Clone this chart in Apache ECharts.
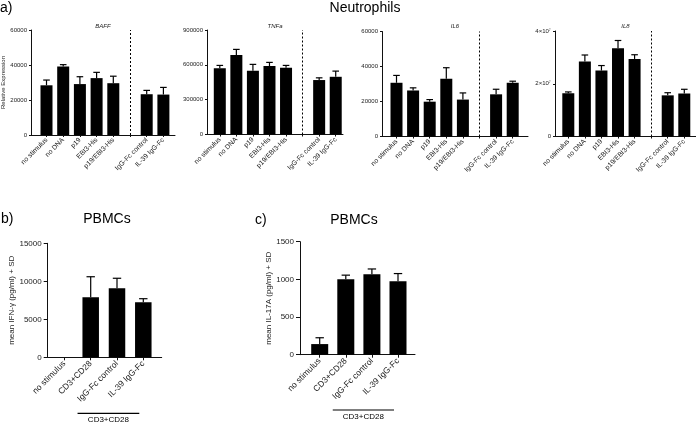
<!DOCTYPE html>
<html><head><meta charset="utf-8">
<script src="https://cdn.jsdelivr.net/npm/echarts@6/dist/echarts.min.js"></script>
<style>html,body{margin:0;padding:0;background:#fff}#c{width:696px;height:423px}</style>
</head><body><div id="c"></div>
<script>
// ---------------- data ----------------
const neutroCats = ['no stimulus', 'no DNA', 'p19', 'EBI3-His', 'p19/EBI3-His', 'IgG-Fc control', 'IL-39 IgG-Fc'];
const baffMean = [28400, 39100, 29100, 32500, 29600, 23300, 23100];
const baffSD   = [3000, 1100, 4200, 3300, 4000, 2200, 4100];
const tnfMean  = [570000, 684000, 549000, 589000, 575000, 469000, 497000];
const tnfSD    = [25000, 49000, 55000, 32000, 20000, 19000, 49000];
const il6Mean  = [30700, 26300, 19900, 33000, 21100, 24100, 30700];
const il6SD    = [4200, 1500, 1200, 6300, 3800, 2900, 900];
const il8Mean  = [16400000, 28400000, 25000000, 33500000, 29400000, 15600000, 16300000];
const il8SD    = [500000, 2500000, 1900000, 2900000, 1600000, 1000000, 1600000];
const il8TickLabels = ['0', '2×10⁷', '4×10⁷'];

const pbmcCats = ['no stimulus', 'CD3+CD28', 'IgG-Fc control', 'IL-39 IgG-Fc'];
const ifnMean  = [0, 7900, 9080, 7240];
const ifnSD    = [0, 2700, 1320, 470];
const il17Mean = [141, 1001, 1067, 975];
const il17SD   = [84, 55, 71, 102];

// ---------------- layout ----------------
const FONT = 'Liberation Sans, Arial, Helvetica, sans-serif';
const withGap = (arr, gap, fill) => gap == null ? arr.slice() : [...arr.slice(0, gap), fill, ...arr.slice(gap)];

const panels = [
  {title: 'BAFF', cats: neutroCats, mean: baffMean, sd: baffSD, gap: 5, max: 60000, interval: 20000,
   yName: 'Relative Expression', nameGap: 20,
   frame: {l: 31, r: 175, t: 30, b: 135}, c0: 46.5, step: 16.7, barW: 12, small: true},
  {title: 'TNFa', cats: neutroCats, mean: tnfMean, sd: tnfSD, gap: 5, max: 900000, interval: 300000,
   frame: {l: 207, r: 343, t: 30, b: 134.5}, c0: 219.8, step: 16.56, barW: 12, small: true},
  {title: 'IL6', cats: neutroCats, mean: il6Mean, sd: il6SD, gap: 5, max: 60000, interval: 20000,
   frame: {l: 382, r: 528, t: 31.5, b: 136.5}, c0: 396.5, step: 16.6, barW: 12, small: true},
  {title: 'IL8', cats: neutroCats, mean: il8Mean, sd: il8SD, gap: 5, max: 40000000, interval: 20000000,
   fmt: v => il8TickLabels[Math.round(v / 20000000)],
   frame: {l: 555, r: 696, t: 31, b: 136.5}, c0: 568.3, step: 16.57, barW: 12, small: true},
  {cats: pbmcCats, mean: ifnMean, sd: ifnSD, gap: null, max: 15000, interval: 5000,
   yName: 'mean IFN-γ (pg/ml) + SD', nameGap: 26,
   frame: {l: 47.7, r: 161.7, t: 243.3, b: 357.3}, c0: 64.4, step: 26.3, barW: 16.5, small: false},
  {cats: pbmcCats, mean: il17Mean, sd: il17SD, gap: null, max: 1500, interval: 500,
   yName: 'mean IL-17A (pg/ml) + SD', nameGap: 22,
   frame: {l: 300, r: 415, t: 241.7, b: 354.7}, c0: 319.7, step: 26.1, barW: 17, small: false}
];

const grid = [], xAxis = [], yAxis = [], series = [], graphic = [];
const axisColor = '#111';

panels.forEach((p, i) => {
  const f = p.frame;
  const fi = 2 * i, di = 2 * i + 1;
  const cats = withGap(p.cats, p.gap, '');
  const n = cats.length;
  const fs = p.small ? 6 : 8;
  grid.push({left: f.l, top: f.t, width: f.r - f.l, height: f.b - f.t, outerBoundsMode: 'none', containLabel: false});
  grid.push({left: p.c0 - p.step / 2, top: f.t, width: p.step * n, height: f.b - f.t, outerBoundsMode: 'none', containLabel: false});
  // frame axes (visible lines + y labels)
  xAxis.push({gridIndex: fi, type: 'value', min: 0, max: 1,
    axisLine: {show: true, lineStyle: {color: axisColor, width: 1}},
    axisTick: {show: false}, axisLabel: {show: false}, splitLine: {show: false}});
  yAxis.push({gridIndex: fi, type: 'value', min: 0, max: p.max, interval: p.interval,
    axisLine: {show: true, lineStyle: {color: axisColor, width: 1}},
    axisTick: {show: true, length: p.small ? 2 : 4, lineStyle: {color: axisColor, width: 1}},
    axisLabel: {fontSize: fs, color: '#222', fontFamily: FONT, margin: p.small ? 4 : 6,
      formatter: p.fmt ? p.fmt : (v => String(v))},
    splitLine: {show: false},
    name: p.yName || '', nameLocation: 'middle', nameGap: p.nameGap || 20,
    nameTextStyle: {fontSize: p.small ? 6 : 8, color: '#222', fontFamily: FONT}});
  // data axes (categories)
  xAxis.push({gridIndex: di, type: 'category', data: cats,
    axisLine: {show: false},
    axisTick: {show: true, alignWithLabel: true, interval: 0, length: p.small ? 2 : 3, lineStyle: {color: axisColor, width: 1}},
    axisLabel: {interval: 0, rotate: 45, fontSize: p.small ? 6.8 : 8.5, color: '#222', fontFamily: FONT, margin: p.small ? 4 : 5}});
  yAxis.push({gridIndex: di, type: 'value', min: 0, max: p.max, show: false});

  const meanG = withGap(p.mean, p.gap, '-');
  const bar = {type: 'bar', xAxisIndex: di, yAxisIndex: di, data: meanG, barWidth: p.barW,
    itemStyle: {color: '#000'}, silent: true};
  if (p.gap != null) {
    bar.markLine = {silent: true, symbol: 'none', label: {show: false},
      lineStyle: {type: [2, 2], color: '#000', width: 1},
      data: [{xAxis: p.gap}]};
  }
  series.push(bar);

  const errData = [];
  meanG.forEach((m, k) => {
    if (m === '-') return;
    const sIdx = (p.gap != null && k > p.gap) ? k - 1 : k;
    const s = p.sd[sIdx];
    if (!s) return;
    errData.push([k, m, m + s]);
  });
  const capHalf = p.small ? 3.3 : 4.2;
  series.push({type: 'custom', xAxisIndex: di, yAxisIndex: di, data: errData, silent: true,
    encode: {x: 0, y: [1, 2]},
    renderItem: (params, api) => {
      const x = api.value(0);
      const b = api.coord([x, api.value(1)]);
      const t = api.coord([x, api.value(2)]);
      return {type: 'group', children: [
        {type: 'line', shape: {x1: b[0], y1: b[1], x2: t[0], y2: t[1]}, style: {stroke: '#000', lineWidth: 1.2}},
        {type: 'line', shape: {x1: t[0] - capHalf, y1: t[1], x2: t[0] + capHalf, y2: t[1]}, style: {stroke: '#000', lineWidth: 1.2}}
      ]};
    }});

  if (p.title) {
    graphic.push({type: 'text', x: (f.l + f.r) / 2, y: 26, silent: true,
      style: {text: p.title, fill: '#222', fontSize: 6, fontStyle: 'italic', fontFamily: FONT,
        align: 'center', verticalAlign: 'middle', textAlign: 'center', textVerticalAlign: 'middle'}});
  }
});

const txt = (text, x, y, size, align) => ({type: 'text', x: x, y: y, silent: true,
  style: {text: text, fill: '#000', fontSize: size, fontFamily: FONT,
    align: align || 'center', verticalAlign: 'middle', textAlign: align || 'center', textVerticalAlign: 'middle'}});

graphic.push(txt('a)', 0, 8.5, 14, 'left'));
graphic.push(txt('Neutrophils', 365, 8.5, 14));
graphic.push(txt('b)', 1, 219, 14, 'left'));
graphic.push(txt('PBMCs', 107, 219, 14));
graphic.push(txt('c)', 255, 220, 14, 'left'));
graphic.push(txt('PBMCs', 354, 220, 14));

const chart = echarts.init(document.getElementById('c'), null, {renderer: 'canvas'});
chart.setOption({animation: false, backgroundColor: '#fff', textStyle: {fontFamily: FONT},
  grid, xAxis, yAxis, series, graphic});

// "CD3+CD28" brackets under panels b and c, positioned through the category axes
const brackets = [{panel: 4, lineY: 413.3, textY: 420}, {panel: 5, lineY: 410, textY: 416.7}];
const extra = [];
brackets.forEach(bk => {
  const p = panels[bk.panel];
  const ax = 2 * bk.panel + 1;
  const xs = chart.convertToPixel({xAxisIndex: ax}, 'CD3+CD28');
  const xe = chart.convertToPixel({xAxisIndex: ax}, 'IL-39 IgG-Fc');
  const x1 = xs - p.step / 2, x2 = xe - 4;
  extra.push({type: 'line', silent: true, shape: {x1: x1, y1: bk.lineY, x2: x2, y2: bk.lineY},
    style: {stroke: '#000', lineWidth: 1.2}});
  extra.push(txt('CD3+CD28', (x1 + x2) / 2, bk.textY, 8));
});
chart.setOption({graphic: graphic.concat(extra)}, {replaceMerge: ['graphic']});
</script>
</body></html>
